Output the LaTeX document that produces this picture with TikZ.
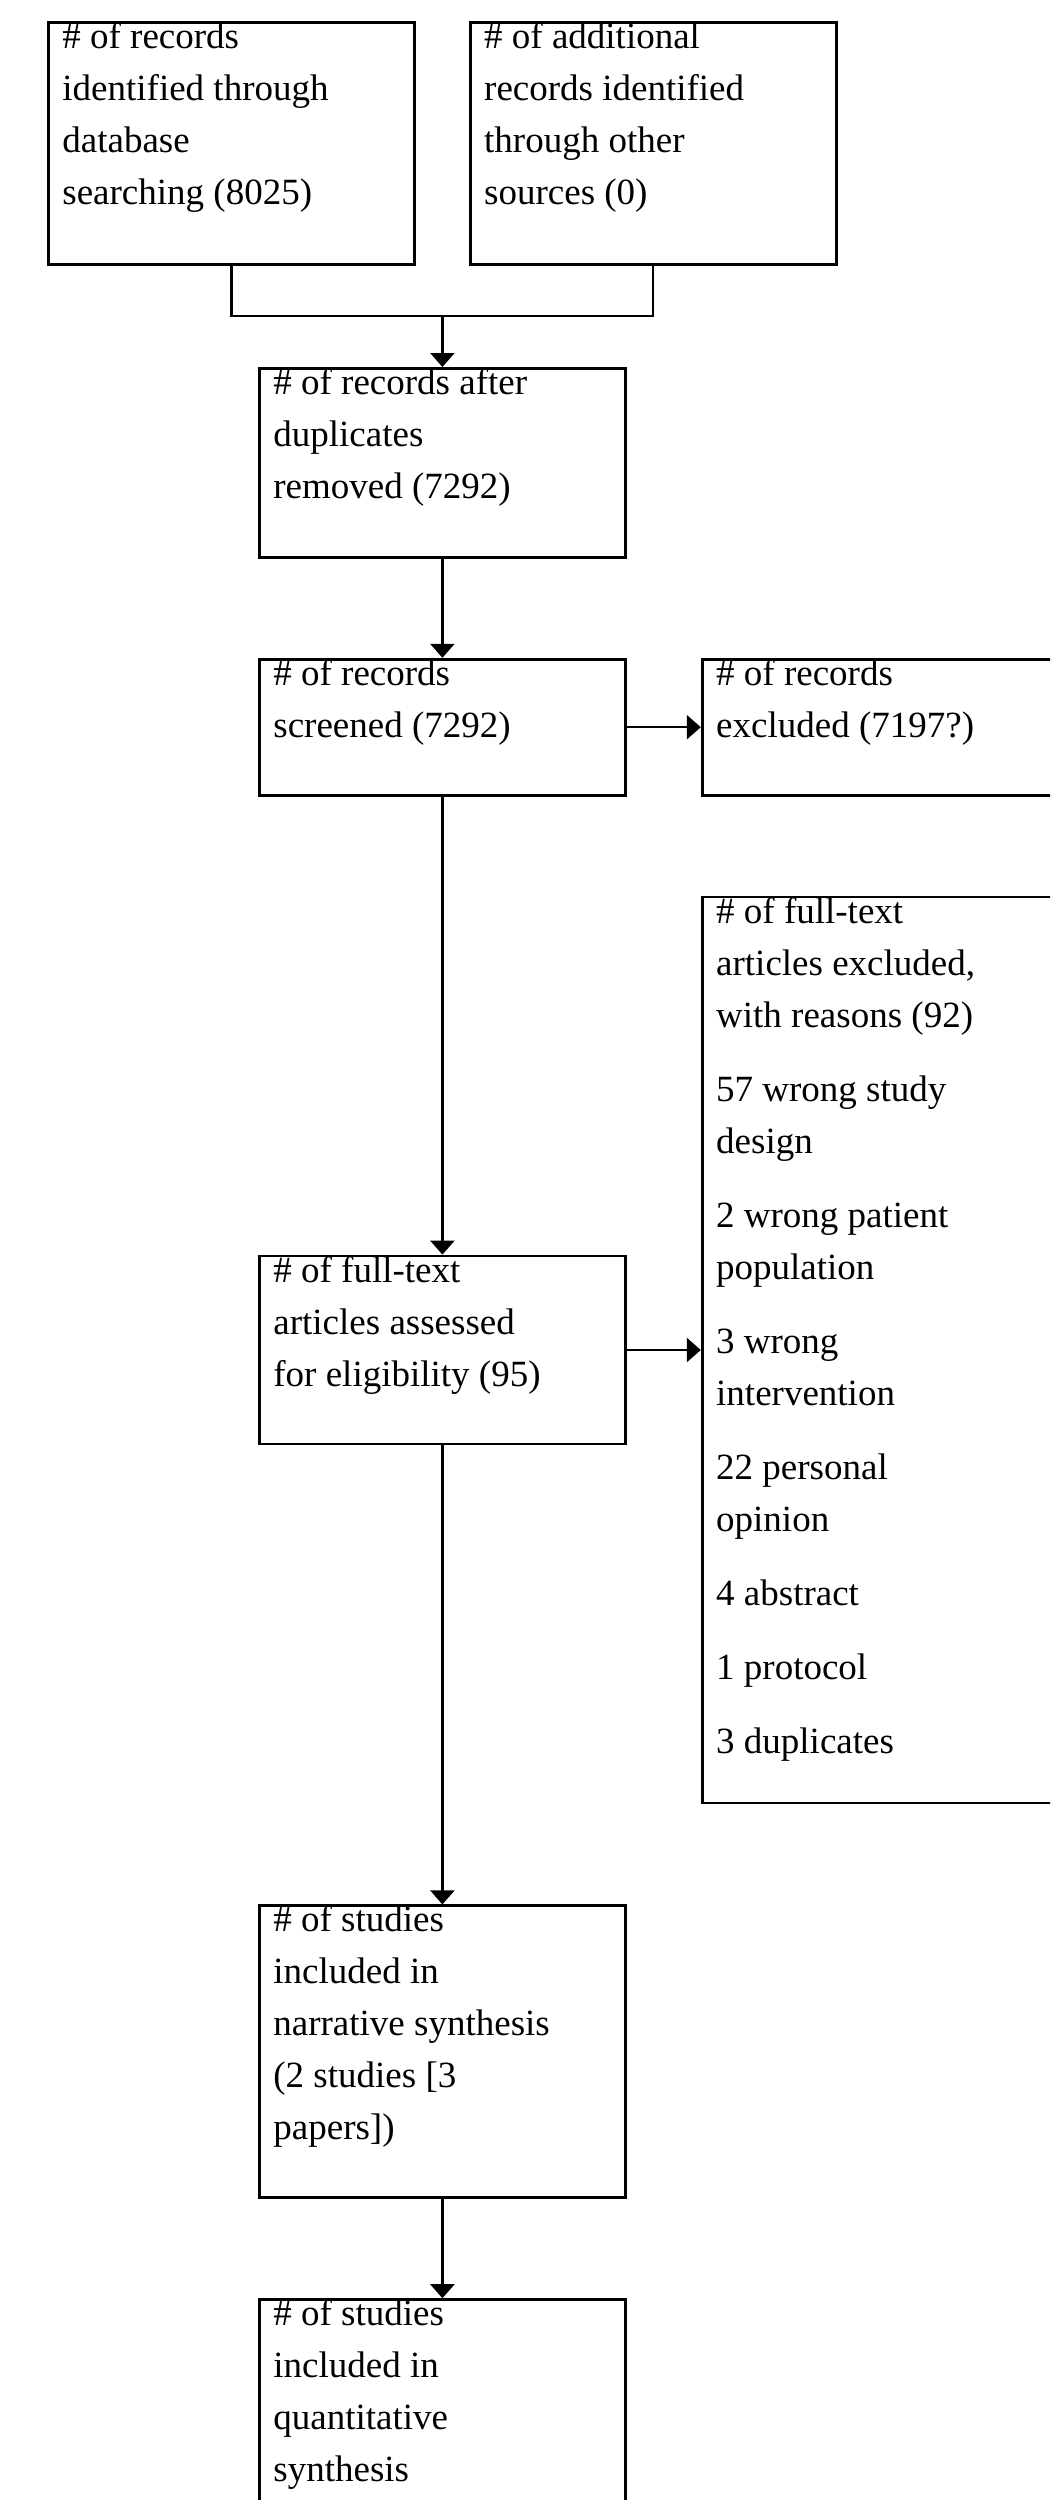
\documentclass[tikz,border=0pt]{standalone}
\usepackage{fontspec}
\setmainfont{Liberation Serif}
\usetikzlibrary{positioning, arrows.meta}

\newcommand{\boxtext}[2]{\parbox[t][#1][t]{169pt}{\raggedright #2}}

\begin{document}
\begin{tikzpicture}[
  flowbox/.style={draw, rectangle, line width=1.4pt, inner xsep=7pt, inner ysep=0pt,
    align=left, font=\fontsize{18.5pt}{26pt}\selectfont},
  flowline/.style={line width=1.2pt, -{Triangle[width=12pt, length=7pt]}}
]
\path[use as bounding box, clip] (0,0) rectangle (525pt,-1250pt);

\path
(23.5pt,-10.5pt) node[flowbox, anchor=north west] (rec-db)
  {\boxtext{121pt}{\# of records\\ identified through\\ database\\ searching (8025)}}
node[flowbox, right=26.5pt of rec-db] (rec-other)
  {\boxtext{121pt}{\# of additional\\ records identified\\ through other\\ sources (0)}}
(129pt,-183.5pt) node[flowbox, anchor=north west] (dup-rem)
  {\boxtext{94.5pt}{\# of records after\\ duplicates\\ removed (7292)}}
node[flowbox, below=49.5pt of dup-rem] (rec-scr)
  {\boxtext{68pt}{\# of records\\ screened (7292)}}
node[flowbox, right=37pt of rec-scr] (rec-exc)
  {\boxtext{68pt}{\# of records\\ excluded (7197?)}}
node[flowbox, below=49.5pt of rec-exc] (ft-exc)
  {\boxtext{453pt}{\# of full-text\\ articles excluded,\\ with reasons (92)\\[11pt]
   57 wrong study\\ design\\[11pt] 2 wrong patient\\ population\\[11pt]
   3 wrong\\ intervention\\[11pt] 22 personal\\ opinion\\[11pt]
   4 abstract\\[11pt] 1 protocol\\[11pt] 3 duplicates}}
node[flowbox, below=229pt of rec-scr] (ft-ass)
  {\boxtext{94pt}{\# of full-text\\ articles assessed\\ for eligibility (95)}}
node[flowbox, below=229.5pt of ft-ass] (stud-narr)
  {\boxtext{146pt}{\# of studies\\ included in\\ narrative synthesis\\ (2 studies [3\\ papers])}}
node[flowbox, below=49.5pt of stud-narr] (stud-quant)
  {\boxtext{146pt}{\# of studies\\ included in\\ quantitative\\ synthesis}}
;

\coordinate (join) at ([yshift=-25pt]rec-db.south);

\draw[line width=1.2pt]
(rec-db.south) |- (dup-rem.north |- join) -| (rec-other.south)
;
\draw[flowline] (dup-rem.north |- join) -- (dup-rem.north) ;

\draw[flowline] (dup-rem) -- (rec-scr) ;
\draw[flowline] (rec-scr) -- (rec-exc) ;
\draw[flowline] (rec-scr) -- (ft-ass) ;
\draw[flowline] (ft-ass.east) -- (ft-ass.east -| ft-exc.west) ;
\draw[flowline] (ft-ass) -- (stud-narr) ;
\draw[flowline] (stud-narr) -- (stud-quant) ;

\end{tikzpicture}
\end{document}
